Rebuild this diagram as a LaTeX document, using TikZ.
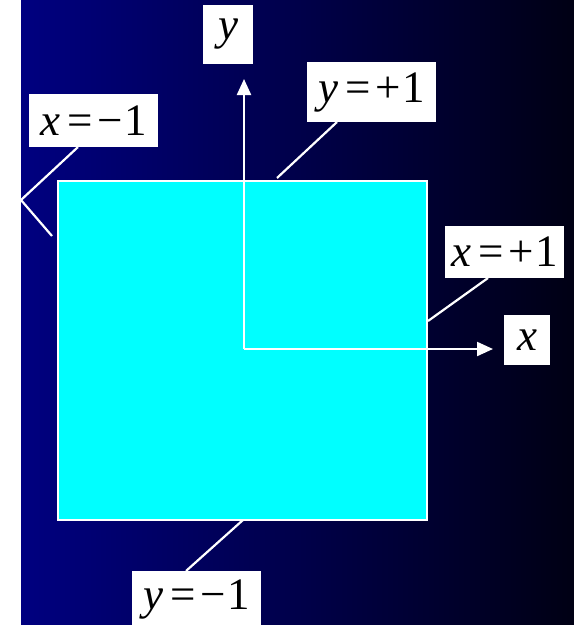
\documentclass[tikz,border=0pt]{standalone}
\usepackage{fontspec}
\setmainfont{Liberation Serif}
\newfontfamily\tms{Liberation Serif}
\usetikzlibrary{arrows.meta}
\definecolor{navy}{RGB}{0,0,128}
\definecolor{nearblack}{RGB}{0,0,20}
\definecolor{aqua}{RGB}{0,255,255}
\newcommand{\eqsym}{\hspace{7pt}=\hspace{5pt}}
\tikzset{
  lbl/.style={fill=white, inner sep=0pt, font=\tms\fontsize{45}{48}\selectfont, text=black},
  lead/.style={white, line width=2.2pt},
  axis/.style={white, line width=2.2pt, -{Triangle[length=16pt,width=14pt]}},
}
\begin{document}
\begin{tikzpicture}[x=1pt,y=-1pt]
\useasboundingbox (0,0) rectangle (574,625);
\fill[white] (0,0) rectangle (574,625);
\shade[left color=navy, right color=nearblack] (21,0) rectangle (574,625);
\node[draw=white, line width=1.5pt, fill=aqua, minimum width=369pt, minimum height=339pt, inner sep=0pt, anchor=north west] (sq) at (57,180) {};
% labels
\node[lbl, minimum width=129pt, minimum height=53pt] (xm) at (93.5,120.5) {\textit{x}\eqsym−\hspace{1pt}1};
\node[lbl, minimum width=129pt, minimum height=60pt] (yp) at (371.5,92) {\textit{y}\eqsym+\hspace{1pt}1};
\node[lbl, minimum width=119pt, minimum height=52pt] (xp) at (504.5,252) {\textit{x}\eqsym+\hspace{1pt}1};
\node[lbl, minimum width=129pt, minimum height=56pt] (ym) at (196.5,599) {\textit{y}\eqsym−\hspace{1pt}1};
\node[lbl, minimum width=50pt, minimum height=59pt] (ylab) at (228,34.5) {\textit{y}};
\node[lbl, minimum width=46pt, minimum height=50pt] (xlab) at (527,340) {\textit{x}};
% axes
\coordinate (o) at (244,349);
\coordinate (ytip) at (244,79);
\coordinate (xtip) at (493,349);
\draw[axis] (o) -- (ytip);
\draw[axis] (o) -- (xtip);
% leaders
\coordinate (k) at (21,200);
\coordinate (xmE) at (52,236);
\draw[lead] (78,147) -- (k) -- (xmE);
\coordinate (ypE) at (277,178);
\draw[lead] (337,122) -- (ypE);
\coordinate (xpE) at (428,321);
\draw[lead] (488,278) -- (xpE);
\coordinate (ymE) at (243,520);
\draw[lead] (186,571) -- (ymE);
\end{tikzpicture}
\end{document}
